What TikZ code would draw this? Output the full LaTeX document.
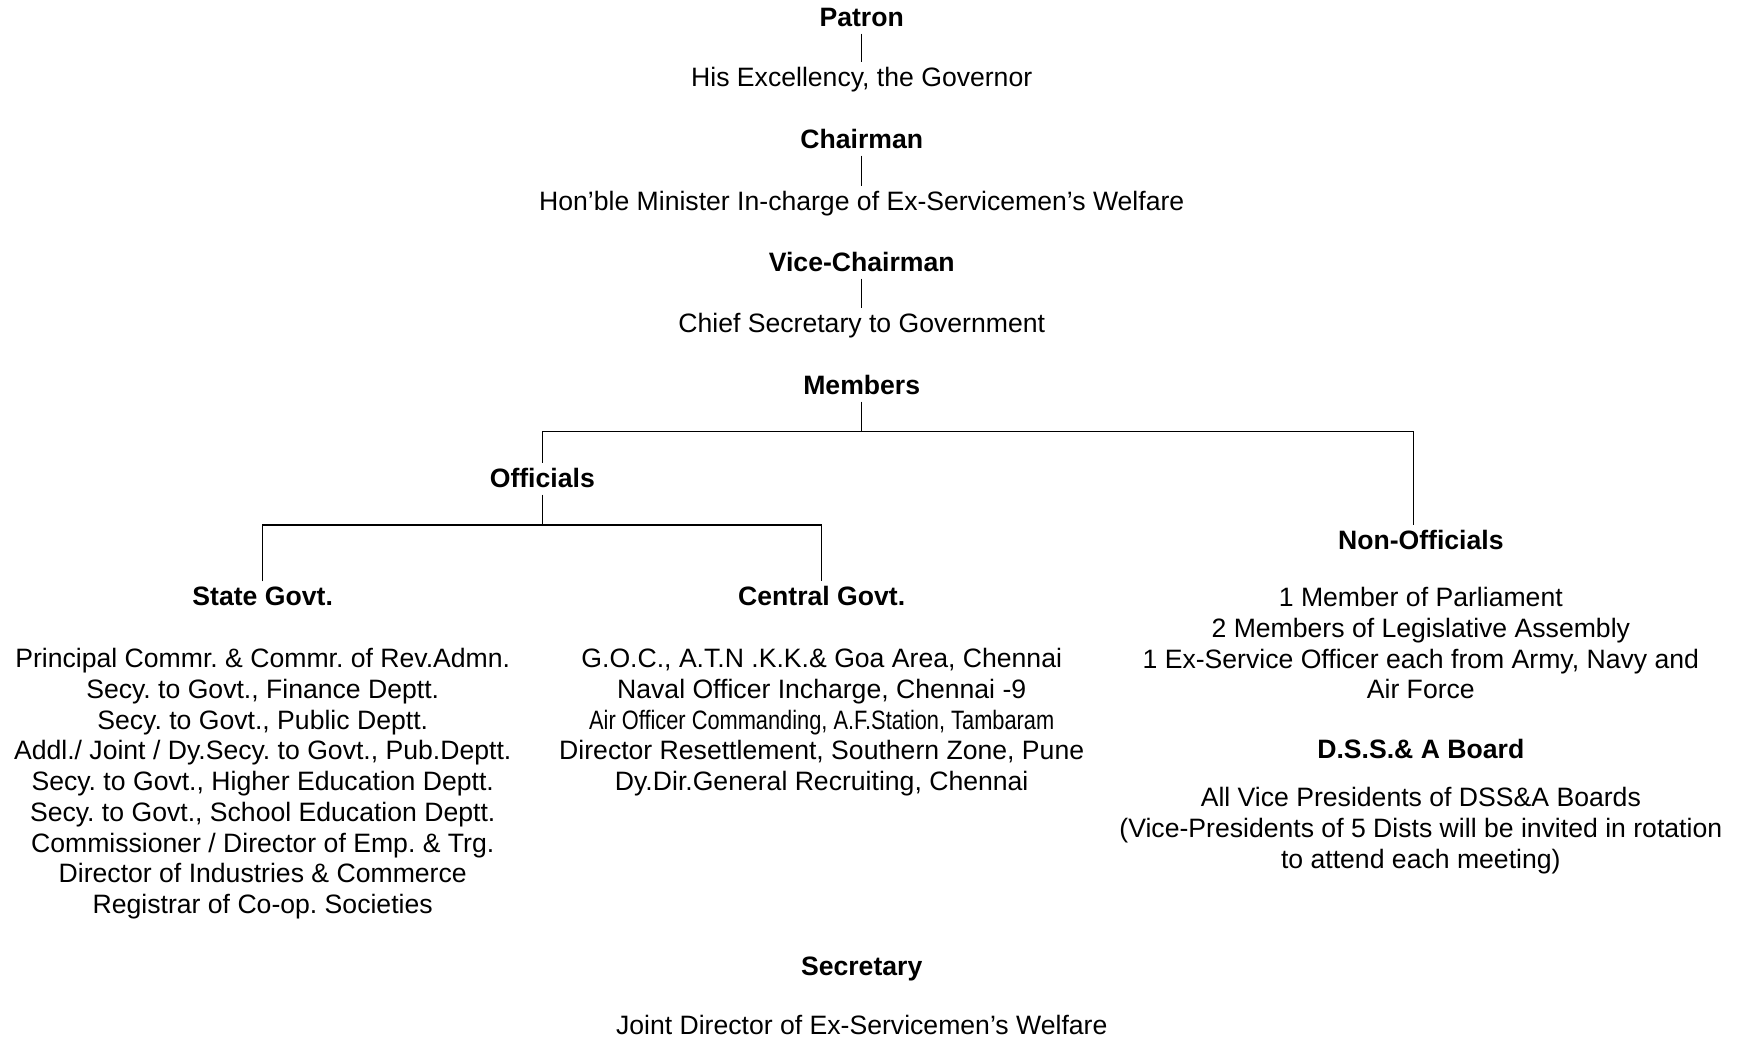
\documentclass[tikz,border=0pt]{standalone}
\usepackage{fontspec}
\setmainfont{Liberation Sans}
\newfontfamily\narrowfont{Liberation Sans}[FakeStretch=0.82]
\frenchspacing

\begin{document}
\begin{tikzpicture}[x=0.4511pt,y=-0.4511pt,line width=0.6pt,
	title/.style={font=\fontsize{12pt}{13.87pt}\selectfont\bfseries,inner xsep=2pt,inner ysep=1.5pt,text height=9.3pt,text depth=1.2pt},
	post/.style={font=\fontsize{12pt}{13.87pt}\selectfont,inner xsep=2pt,inner ysep=1.5pt,text height=9.3pt,text depth=1.2pt},
	list/.style={font=\fontsize{12pt}{13.87pt}\selectfont,align=center,inner sep=0pt,anchor=north}]
	\useasboundingbox (0,0) rectangle (1740,1039);
	% Patron, Chairman, Vice-Chairman
	\node[title] (patron) at (861.7,18) {Patron};
	\node[post] (governor) at (861.7,78) {His Excellency, the Governor};
	\node[title] (chairman) at (861.7,140) {Chairman};
	\node[post] (minister) at (861.7,202) {Hon’ble Minister In-charge of Ex-Servicemen’s Welfare};
	\node[title] (vicechair) at (861.7,263) {Vice-Chairman};
	\node[post] (chiefsec) at (861.7,324) {Chief Secretary to Government};
	% Members
	\node[title] (members) at (861.7,386) {Members};
	\node[title] (officials) at (542.3,479) {Officials};
	\node[title] (nonofficials) at (1420.8,541) {Non-Officials};
	\node[title] (stategovt) at (262.7,597) {State Govt.};
	\node[title] (centralgovt) at (821.7,597) {Central Govt.};
	\node[list] (statelist) at (262.7,647.6) {Principal Commr. \& Commr. of Rev.Admn.\\
		Secy. to Govt., Finance Deptt.\\
		Secy. to Govt., Public Deptt.\\
		Addl./ Joint / Dy.Secy. to Govt., Pub.Deptt.\\
		Secy. to Govt., Higher Education Deptt.\\
		Secy. to Govt., School Education Deptt.\\
		Commissioner / Director of Emp. \& Trg.\\
		Director of Industries \& Commerce\\
		Registrar of Co-op. Societies};
	\node[list] (centrallist) at (821.7,647.6) {G.O.C., A.T.N .K.K.\& Goa Area, Chennai\\
		Naval Officer Incharge, Chennai -9\\
		{\narrowfont Air Officer Commanding, A.F.Station, Tambaram}\\
		Director Resettlement, Southern Zone, Pune\\
		Dy.Dir.General Recruiting, Chennai};
	\node[list] (nonofflist) at (1420.8,586.6) {1 Member of Parliament\\
		2 Members of Legislative Assembly\\
		1 Ex-Service Officer each from Army, Navy and\\
		Air Force};
	\node[title] (dssboard) at (1420.8,750) {D.S.S.\& A Board};
	\node[list] (dsslist) at (1420.8,786.6) {All Vice Presidents of DSS\&A Boards\\
		(Vice-Presidents of 5 Dists will be invited in rotation\\
		to attend each meeting)};
	% Secretary
	\node[title] (secretary) at (861.7,966) {Secretary};
	\node[post] (jointdir) at (861.7,1025) {Joint Director of Ex-Servicemen’s Welfare};
	% Connectors
	\draw (patron) -- (governor);
	\draw (chairman) -- (minister);
	\draw (vicechair) -- (chiefsec);
	\coordinate (membersfork) at (861.7,431.7);
	\draw (members) -- (membersfork) -| (officials);
	\draw (membersfork) -| ([xshift=-3.4pt]nonofficials.north);
	\coordinate (officialsfork) at (542.3,525);
	\draw (officials) -- (officialsfork);
	\draw (stategovt) |- (officialsfork) -| (centralgovt);
\end{tikzpicture}
\end{document}
